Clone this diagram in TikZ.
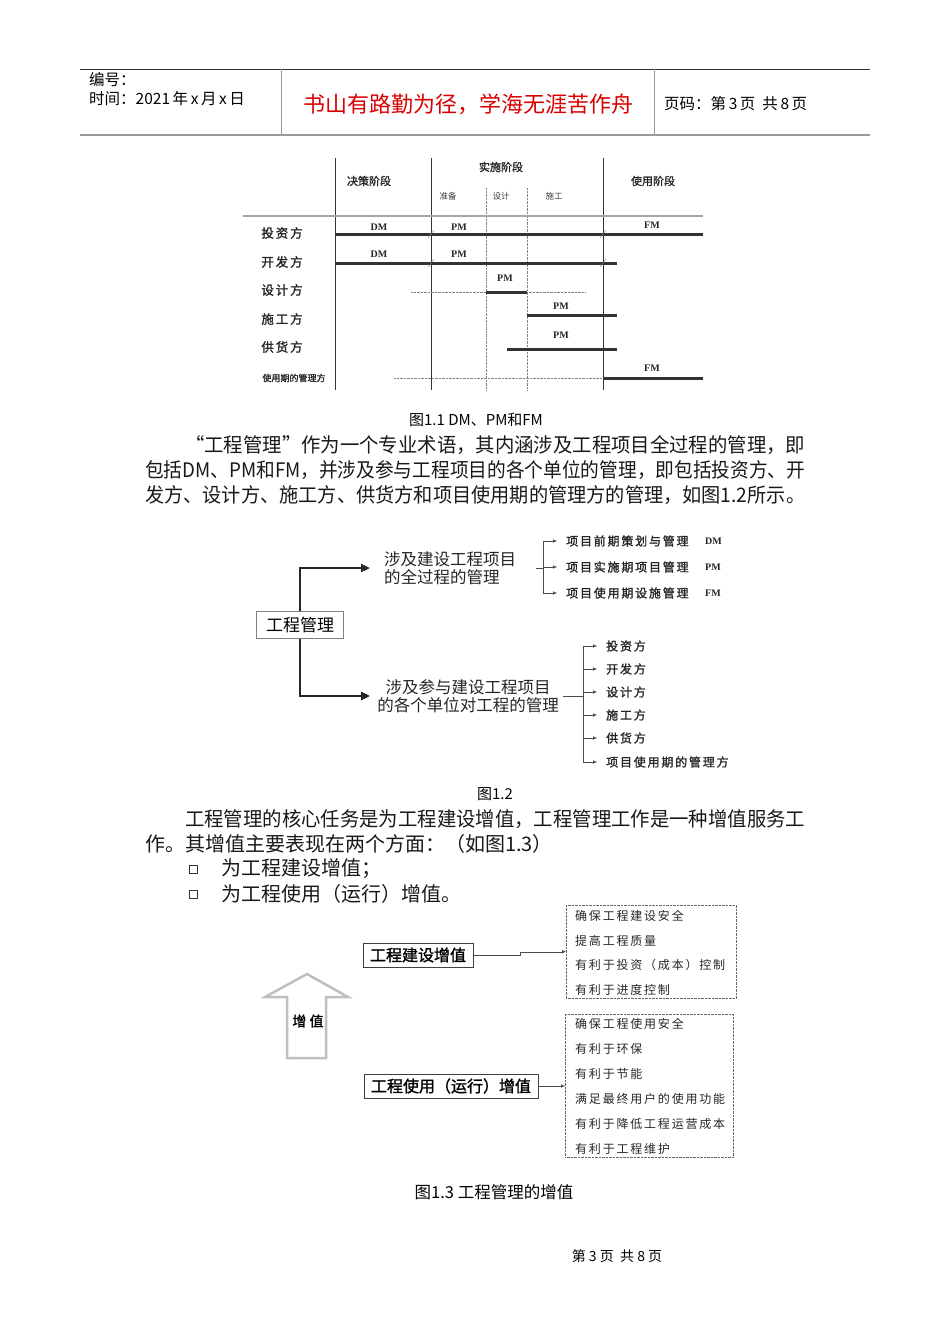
\documentclass[tikz,border=0pt]{standalone}
\usepackage{graphicx}
\usepackage{fontspec}
\setmainfont{Noto Sans CJK SC}[AutoFakeBold=1.5]
\newfontfamily\spacedcjk{Noto Sans CJK SC}[LetterSpace=15,AutoFakeBold=1.5]
\newfontfamily\latinserif{Liberation Serif}
\usetikzlibrary{arrows.meta,positioning,calc}
\newcommand{\setfs}[1]{\fontsize{#1}{#1}\selectfont}
\newcommand{\fitline}[2]{\resizebox{#1}{\height}{#2}}

\tikzset{
  hdrtext/.style={anchor=west, inner sep=0pt, font=\setfs{15.5}},
  bodyline/.style={anchor=west, inner sep=0pt, text=black!90, font=\setfs{20}},
  caption/.style={inner sep=0pt, font=\setfs{15}},
  rowlabel/.style={inner sep=0pt, text=black!85, font=\spacedcjk\bfseries\setfs{12.5}},
  phaselabel/.style={inner sep=0pt, text=black!85, font=\bfseries\setfs{11}},
  subphase/.style={inner sep=0pt, text=black!75, font=\setfs{8.5}},
  mgmt/.style={inner sep=0pt, text=black!85, font=\latinserif\bfseries\setfs{10}},
  bar/.style={line width=3pt, black!80},
  guide/.style={densely dotted, gray, thin},
  itemtext/.style={anchor=west, inner sep=0pt, text=black!85, font=\spacedcjk\bfseries\setfs{12}},
  trunk/.style={line width=2.2pt, black!85, -{Triangle[length=9pt,width=8pt]}},
  branch/.style={thin, black!70},
  twig/.style={thin, black!70, -{Latex[length=4pt,width=3.5pt]}},
  valuebox/.style={draw=black!75, line width=1pt, minimum height=24pt, inner xsep=7pt,
    font=\bfseries\setfs{16}},
  listbox/.style={draw=black!60, densely dotted, anchor=north west},
  listtext/.style={anchor=west, inner sep=0pt, text=black!85, font=\spacedcjk\setfs{12}},
}

\begin{document}
\begin{tikzpicture}[x=1pt, y=-1pt]
    \fill[white] (0,0) rectangle (950,1344);
    \useasboundingbox (0,0) rectangle (950,1344);

    % Header
    \draw[black!80, line width=0.8pt] (80,69) -- (870,69);
    \draw[gray!80, line width=1.8pt] (80,135) -- (870,135);
    \draw[gray!80, line width=0.8pt] (281,69) -- (281,135);
    \draw[gray!80, line width=0.8pt] (654,69) -- (654,135);
    \node[hdrtext] (code) at (89,80) {编号：};
    \node[hdrtext] (date) at (89,99) {时间：2021\,年\,x\,月\,x\,日};
    \node[font=\setfs{22}, text=red!85!black] (motto) at (468,104) {书山有路勤为径，学海无涯苦作舟};
    \node[hdrtext] (pageno) at (664,104) {页码：第\,3\,页\ \ 共\,8\,页};

    % Figure 1.1: phases
    \foreach \x in {335,431,603}
        \draw[black!80, thin] (\x,158) -- (\x,390);
    \foreach \x in {486,527}
        \draw[guide] (\x,188) -- (\x,390);
    \draw[gray!70, line width=1.2pt] (243,216) -- (703,216);
    \node[phaselabel] (decide) at (369,181) {决策阶段};
    \node[phaselabel] (build) at (501,167) {实施阶段};
    \node[phaselabel] (operate) at (653,181) {使用阶段};
    \node[subphase] (prepare) at (448,196) {准备};
    \node[subphase] (design) at (501,196) {设计};
    \node[subphase] (construct) at (554,196) {施工};

    % Figure 1.1: parties
    \foreach \y/\t [count=\i] in {233/投资方,262/开发方,290/设计方,319/施工方,347/供货方}
        \node[rowlabel] (row\i) at (282,\y) {\t};
    \node[inner sep=0pt, text=black!85, font=\bfseries\setfs{9}] (row6) at (294,378) {使用期的管理方};

    % Figure 1.1: bars
    \draw[bar] (335,234) -- (703,234);
    \draw[bar] (335,263) -- (617,263);
    \draw[guide] (411,292) -- (585,292);
    \draw[bar] (486,292) -- (527,292);
    \draw[bar] (527,315) -- (617,315);
    \draw[bar] (507,349) -- (617,349);
    \draw[guide] (394,378) -- (603,378);
    \draw[bar] (603,378) -- (703,378);
    \foreach \x/\y in {431/234,603/234,431/263,603/263}
        \draw[thin, gray] (\x-3,\y+4) -- (\x+3,\y-4);

    % Figure 1.1: management labels
    \node[mgmt] (dm1) at (379,227) {DM};
    \node[mgmt] (dm2) at (379,254) {DM};
    \node[mgmt] (pm1) at (459,227) {PM};
    \node[mgmt] (pm2) at (459,254) {PM};
    \node[mgmt] (pm3) at (505,278) {PM};
    \node[mgmt] (pm4) at (561,306) {PM};
    \node[mgmt] (pm5) at (561,335) {PM};
    \node[mgmt] (fm1) at (652,225) {FM};
    \node[mgmt] (fm2) at (652,368) {FM};
    \node[caption] (cap1) at (476,420) {图1.1\ DM、PM和FM};

    % Paragraph 1
    \node[bodyline] (para1a) at (185,445) {\fitline{620pt}{“工程管理”作为一个专业术语，其内涵涉及工程项目全过程的管理，即}};
    \node[bodyline] (para1b) at (145,470) {\fitline{660pt}{包括DM、PM和FM，并涉及参与工程项目的各个单位的管理，即包括投资方、开}};
    \node[bodyline] (para1c) at (145,495) {\fitline{660pt}{发方、设计方、施工方、供货方和项目使用期的管理方的管理，如图1.2所示。}};

    % Figure 1.2
    \node[draw=gray, font=\setfs{17}, minimum width=87pt, minimum height=27pt, inner sep=2pt] (root) at (300,625) {工程管理};
    \node[anchor=west, inner sep=0pt, align=left, text=black!85, font=\fontsize{16.5}{18}\selectfont] (whole) at (384,568) {涉及建设工程项目\\的全过程的管理};
    \node[inner sep=0pt, align=center, text=black!85, font=\fontsize{16.5}{18}\selectfont] (units) at (468,696) {涉及参与建设工程项目\\的各个单位对工程的管理};
    \draw[trunk] (root.north) |- ([xshift=-14pt]whole.west);
    \draw[trunk] (root.south) |- ([xshift=-7pt]units.west);

    \coordinate (fork1) at (543,568);
    \draw[branch] ($(whole.east)+(20,0)$) -- (fork1);
    \foreach \y/\t/\m [count=\i] in {541/项目前期策划与管理/DM,567/项目实施期项目管理/PM,593/项目使用期设施管理/FM} {
        \node[itemtext] (phase\i) at (566,\y) {\t};
        \node[mgmt, anchor=west] (abbr\i) at (705,\y) {\m};
        \draw[twig] (fork1 |- phase\i) -- ([xshift=-9pt]phase\i.west);
    }
    \draw[branch] (fork1 |- phase1) -- (fork1 |- phase3);

    \coordinate (fork2) at (583,696);
    \draw[branch] ([xshift=4pt]units.east) -- (fork2);
    \foreach \y/\t [count=\i] in {646/投资方,669/开发方,692/设计方,715/施工方,738/供货方,762/项目使用期的管理方} {
        \node[itemtext] (party\i) at (606,\y) {\t};
        \draw[twig] (fork2 |- party\i) -- ([xshift=-9pt]party\i.west);
    }
    \draw[branch] (fork2 |- party1) -- (fork2 |- party6);
    \node[caption] (cap2) at (495,794) {图1.2};

    % Paragraph 2
    \node[bodyline] (para2a) at (185,819) {\fitline{620pt}{工程管理的核心任务是为工程建设增值，工程管理工作是一种增值服务工}};
    \node[bodyline] (para2b) at (145,844) {作。其增值主要表现在两个方面：（如图1.3）};
    \node[draw=black!80, thin, minimum size=8pt, inner sep=0pt] (tick1) at (193,869) {};
    \node[draw=black!80, thin, minimum size=8pt, inner sep=0pt] (tick2) at (193,894) {};
    \node[bodyline] (aim1) at (221,869) {为工程建设增值；};
    \node[bodyline] (aim2) at (221,894) {为工程使用（运行）增值。};

    % Figure 1.3
    \draw[gray!50, line width=2.5pt, line join=miter] (287,1058) -- (287,997) -- (265,997) -- (307,974)
        -- (348,997) -- (326,997) -- (326,1058) -- cycle;
    \node[inner sep=0pt, font=\bfseries\setfs{14}] (gain) at (308,1021) {增 值};

    \node[valuebox] (buildval) at (418,955) {工程建设增值};
    \node[listbox, minimum width=170pt, minimum height=93pt] (buildlist) at (566,905) {};
    \foreach \y/\t in {916/确保工程建设安全,941/提高工程质量,965/有利于投资（成本）控制,990/有利于进度控制}
        \node[listtext] at (575,\y) {\t};
    \draw[twig] (buildval.east) -- ++(47,0) |- (buildlist.west);

    \node[valuebox] (useval) at (451,1086) {工程使用（运行）增值};
    \node[listbox, minimum width=168pt, minimum height=143pt] (uselist) at (565,1014) {};
    \foreach \y/\t in {1024/确保工程使用安全,1049/有利于环保,1074/有利于节能,1099/满足最终用户的使用功能,1124/有利于降低工程运营成本,1149/有利于工程维护}
        \node[listtext] at (575,\y) {\t};
    \draw[twig] (useval.east) -- (useval.east -| uselist.west);
    \node[caption, font=\setfs{16.5}] (cap3) at (494,1192) {图1.3\ 工程管理的增值};

    % Footer
    \node[inner sep=0pt, font=\setfs{14}] (footer) at (617,1256) {第\ 3\ 页\ \ 共\ 8\ 页};
\end{tikzpicture}
\end{document}
